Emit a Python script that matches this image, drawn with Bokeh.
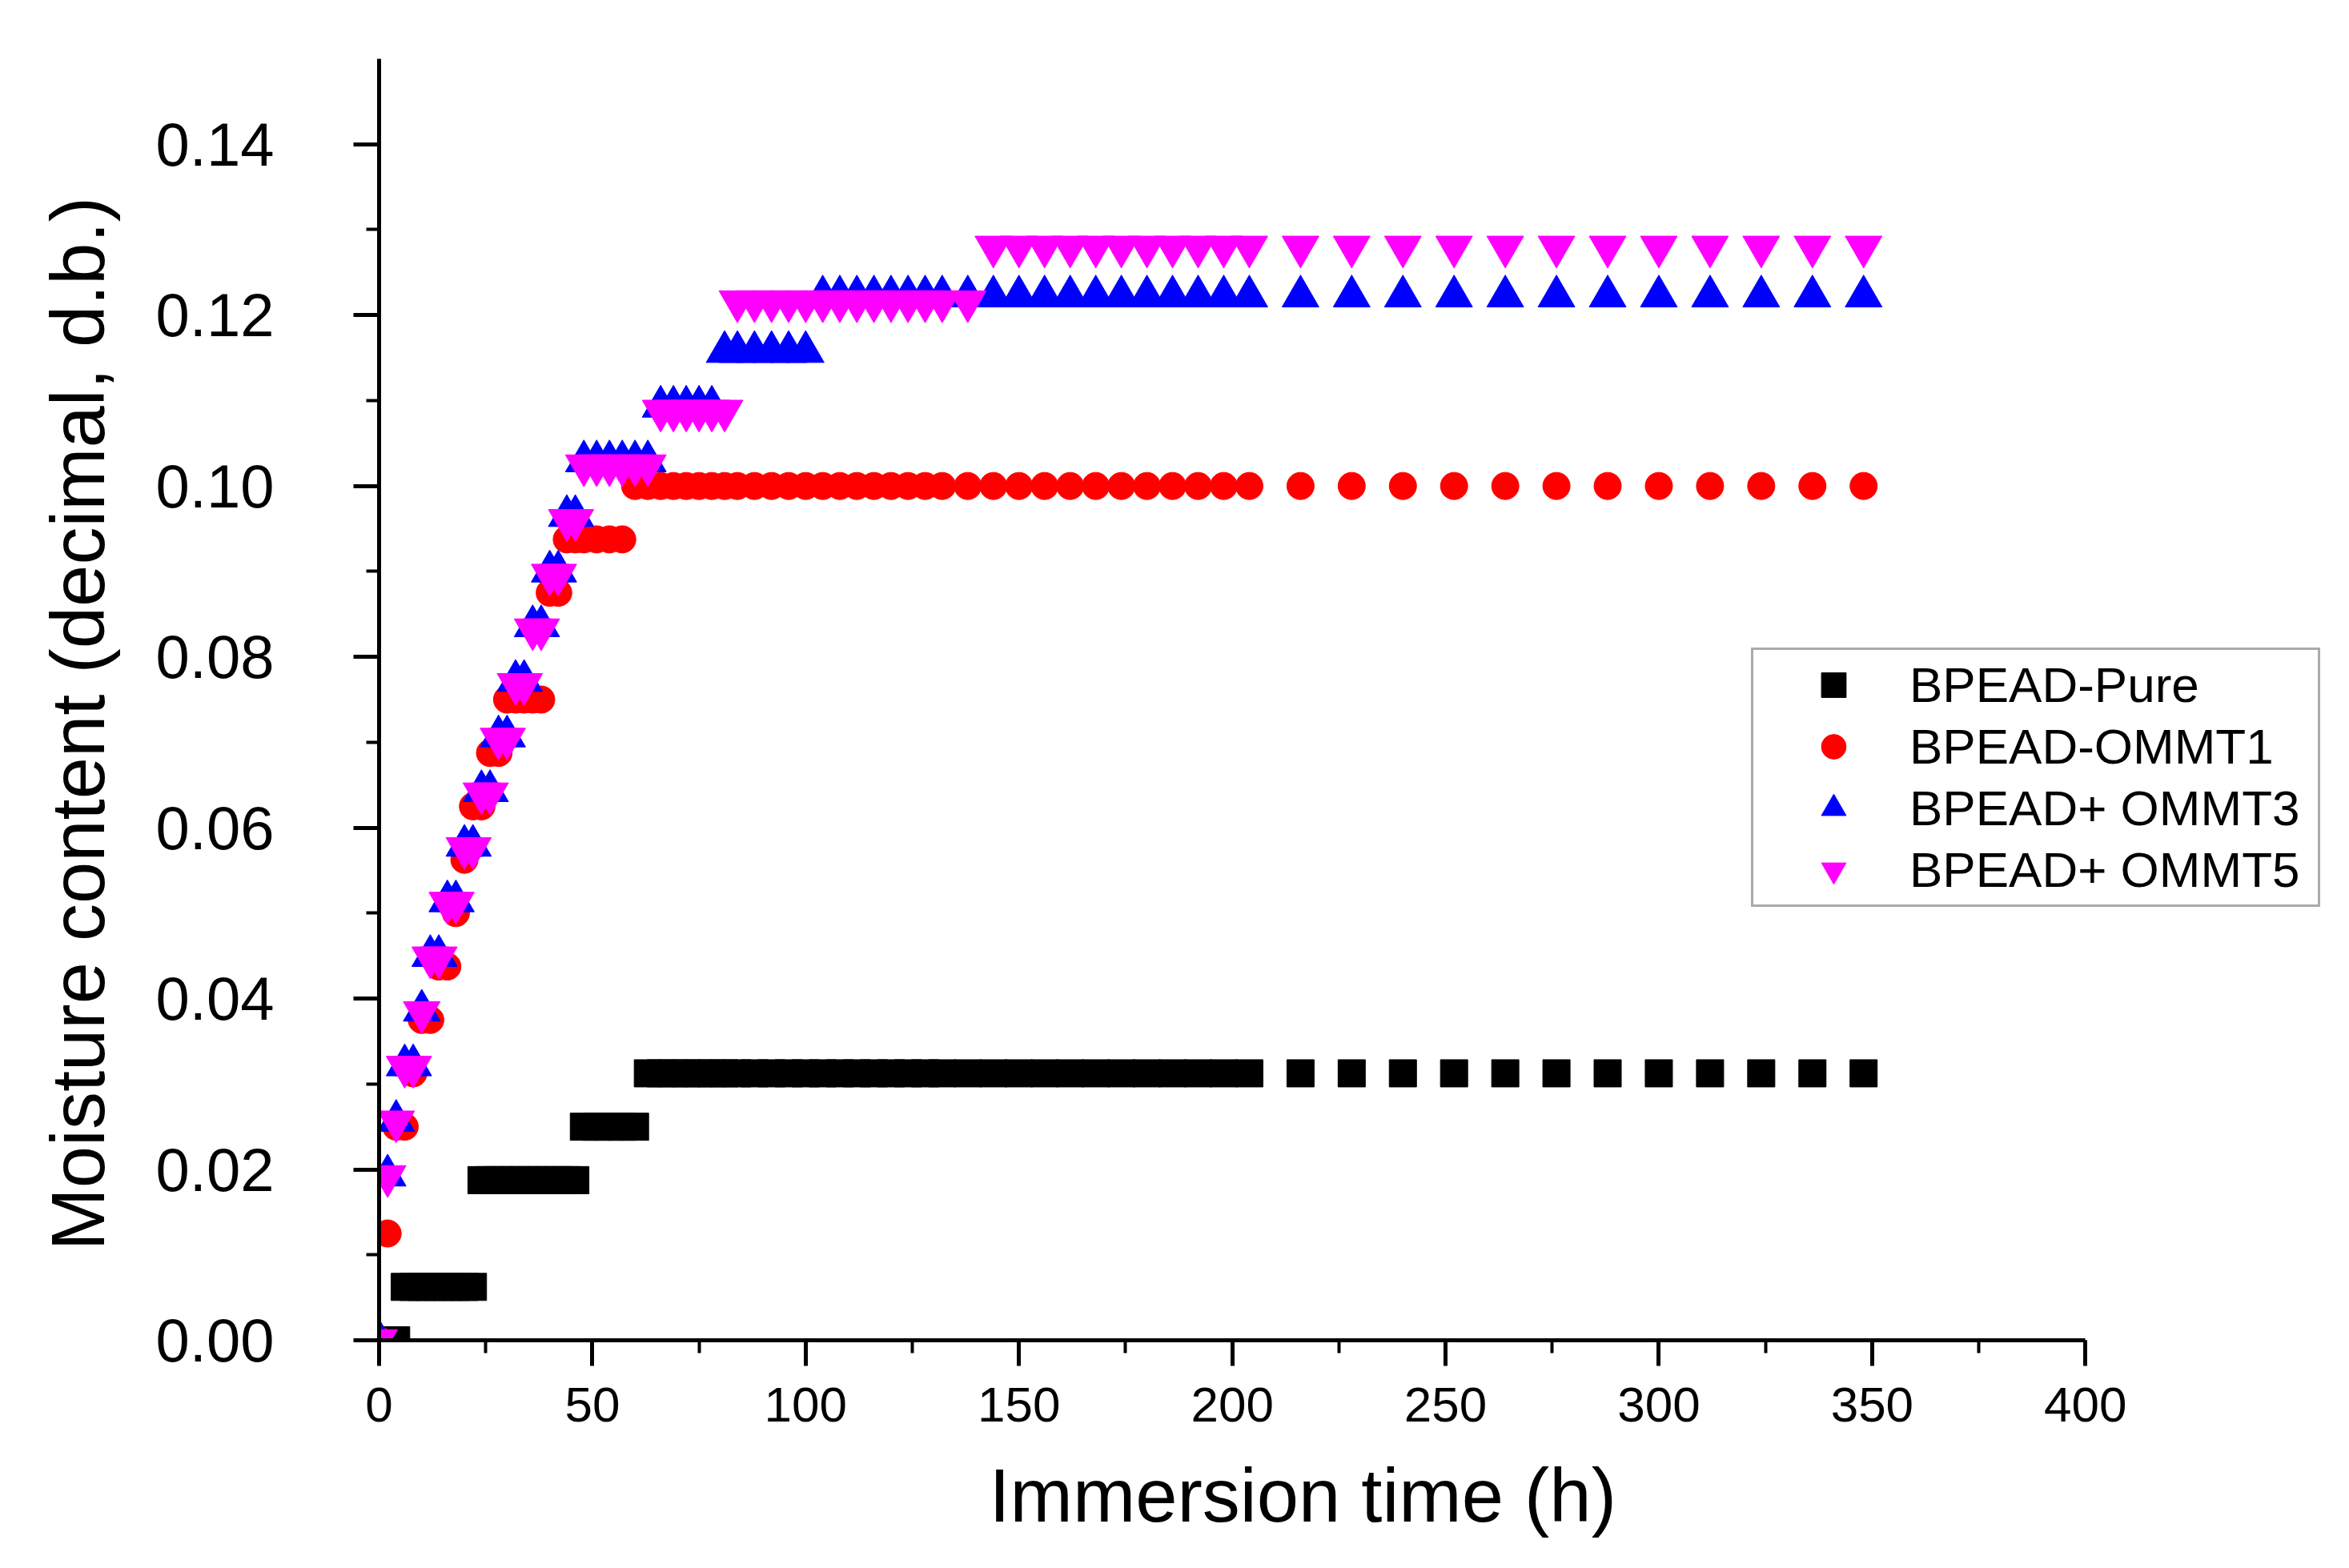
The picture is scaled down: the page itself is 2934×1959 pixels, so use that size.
from bokeh.plotting import figure
from bokeh.models import (Legend, LegendItem, Title, SingleIntervalTicker,
                          NumeralTickFormatter, Range1d)
from bokeh.embed import file_html
from bokeh.resources import INLINE

# ---------------- data ----------------
time_h = [0, 2, 4, 6, 8, 10, 12, 14, 16, 18, 20, 22, 24, 26, 28, 30, 32, 34, 36, 38,
          40, 42, 44, 46, 48, 51, 54, 57, 60, 63, 66, 69, 72, 75, 78, 81, 84, 88, 92, 96,
          100, 104, 108, 112, 116, 120, 124, 128, 132, 138, 144, 150, 156, 162, 168, 174,
          180, 186, 192, 198, 204, 216, 228, 240, 252, 264, 276, 288, 300, 312, 324, 336, 348]

pure = [0, 0, 0, 0.00625, 0.00625, 0.00625, 0.00625, 0.00625, 0.00625, 0.00625,
        0.00625, 0.00625, 0.01875, 0.01875, 0.01875, 0.01875, 0.01875, 0.01875, 0.01875, 0.01875,
        0.01875, 0.01875, 0.01875, 0.01875, 0.025, 0.025, 0.025, 0.025, 0.025, 0.03125,
        0.03125, 0.03125, 0.03125, 0.03125, 0.03125, 0.03125, 0.03125, 0.03125, 0.03125, 0.03125,
        0.03125, 0.03125, 0.03125, 0.03125, 0.03125, 0.03125, 0.03125, 0.03125, 0.03125, 0.03125,
        0.03125, 0.03125, 0.03125, 0.03125, 0.03125, 0.03125, 0.03125, 0.03125, 0.03125, 0.03125,
        0.03125, 0.03125, 0.03125, 0.03125, 0.03125, 0.03125, 0.03125, 0.03125, 0.03125, 0.03125,
        0.03125, 0.03125, 0.03125]

ommt1 = [0, 0.0125, 0.025, 0.025, 0.03125, 0.0375, 0.0375, 0.04375, 0.04375, 0.05,
         0.05625, 0.0625, 0.0625, 0.06875, 0.06875, 0.075, 0.075, 0.075, 0.075, 0.075,
         0.0875, 0.0875, 0.09375, 0.09375, 0.09375, 0.09375, 0.09375, 0.09375, 0.1, 0.1,
         0.1, 0.1, 0.1, 0.1, 0.1, 0.1, 0.1, 0.1, 0.1, 0.1,
         0.1, 0.1, 0.1, 0.1, 0.1, 0.1, 0.1, 0.1, 0.1, 0.1,
         0.1, 0.1, 0.1, 0.1, 0.1, 0.1, 0.1, 0.1, 0.1, 0.1,
         0.1, 0.1, 0.1, 0.1, 0.1, 0.1, 0.1, 0.1, 0.1, 0.1,
         0.1, 0.1, 0.1]

ommt3 = [0, 0.0193, 0.0257, 0.0322, 0.0322, 0.0386, 0.0450, 0.0450, 0.0514, 0.0514,
         0.0579, 0.0579, 0.0643, 0.0643, 0.0707, 0.0707, 0.0772, 0.0772, 0.0836, 0.0836,
         0.0900, 0.0900, 0.0965, 0.0965, 0.1029, 0.1029, 0.1029, 0.1029, 0.1029, 0.1029,
         0.1093, 0.1093, 0.1093, 0.1093, 0.1093, 0.1157, 0.1157, 0.1157, 0.1157, 0.1157,
         0.1157, 0.1222, 0.1222, 0.1222, 0.1222, 0.1222, 0.1222, 0.1222, 0.1222, 0.1222,
         0.1222, 0.1222, 0.1222, 0.1222, 0.1222, 0.1222, 0.1222, 0.1222, 0.1222, 0.1222,
         0.1222, 0.1222, 0.1222, 0.1222, 0.1222, 0.1222, 0.1222, 0.1222, 0.1222, 0.1222,
         0.1222, 0.1222, 0.1222]

ommt5 = [0, 0.0192, 0.0256, 0.0320, 0.0320, 0.0384, 0.0448, 0.0448, 0.0512, 0.0512,
         0.0576, 0.0576, 0.0640, 0.0640, 0.0704, 0.0704, 0.0768, 0.0768, 0.0832, 0.0832,
         0.0896, 0.0896, 0.0960, 0.0960, 0.1024, 0.1024, 0.1024, 0.1024, 0.1024, 0.1024,
         0.1088, 0.1088, 0.1088, 0.1088, 0.1088, 0.1088, 0.1216, 0.1216, 0.1216, 0.1216,
         0.1216, 0.1216, 0.1216, 0.1216, 0.1216, 0.1216, 0.1216, 0.1216, 0.1216, 0.1216,
         0.128, 0.128, 0.128, 0.128, 0.128, 0.128, 0.128, 0.128, 0.128, 0.128,
         0.128, 0.128, 0.128, 0.128, 0.128, 0.128, 0.128, 0.128, 0.128, 0.128,
         0.128, 0.128, 0.128]

series_names = ["BPEAD-Pure", "BPEAD-OMMT1", "BPEAD+ OMMT3", "BPEAD+ OMMT5"]
x_title = "Immersion time (h)"
y_title = "Moisture content (decimal, d.b.)"

# ---------------- figure ----------------
W, H = 2918, 1955
FONT = "Liberation Sans"

p = figure(width=W, height=H, output_backend="svg", toolbar_location=None,
           x_range=Range1d(0, 457.0), y_range=Range1d(0, 0.15),
           min_border_left=473, min_border_right=10,
           min_border_top=73, min_border_bottom=280)
p.outline_line_color = None
p.xgrid.visible = False
p.ygrid.visible = False
p.background_fill_color = "white"
p.border_fill_color = "white"

p.xaxis.ticker = SingleIntervalTicker(interval=50, num_minor_ticks=2)
p.yaxis.ticker = SingleIntervalTicker(interval=0.02, num_minor_ticks=2)
p.yaxis.formatter = NumeralTickFormatter(format="0.00")
p.xaxis.formatter = NumeralTickFormatter(format="0")
p.xaxis.bounds = (0, 400)
p.yaxis.bounds = (0, 0.15)

for ax in (p.xaxis[0], p.yaxis[0]):
    ax.axis_line_width = 5
    ax.axis_line_color = "black"
    ax.major_tick_line_width = 5
    ax.minor_tick_line_width = 4
    ax.major_tick_line_color = "black"
    ax.minor_tick_line_color = "black"
    ax.major_tick_in = 0
    ax.major_tick_out = 32
    ax.minor_tick_in = 0
    ax.minor_tick_out = 16
    ax.major_label_text_font = FONT
    ax.major_label_text_color = "black"

p.yaxis.major_label_text_font_size = "76px"
p.yaxis.major_label_standoff = 99
p.xaxis.major_label_text_font_size = "62px"
p.xaxis.major_label_standoff = 27

r_pure = p.scatter(time_h, pure, marker="square", size=34,
                   fill_color="black", line_color="black")
r_1 = p.scatter(time_h, ommt1, marker="circle", size=34,
                fill_color="#FF0000", line_color="#FF0000")
r_3 = p.scatter(time_h, ommt3, marker="triangle", size=46,
                fill_color="#0000FF", line_color="#0000FF")
r_5 = p.scatter(time_h, ommt5, marker="inverted_triangle", size=46,
                fill_color="#FF00FF", line_color="#FF00FF")

legend = Legend(items=[LegendItem(label=n, renderers=[r])
                       for n, r in zip(series_names, [r_pure, r_1, r_3, r_5])],
                location=(1714, 541))
legend.border_line_color = "#555555"
legend.border_line_width = 3
legend.padding = 5
legend.margin = 0
legend.spacing = 0
legend.glyph_width = 190
legend.glyph_height = 77
legend.label_height = 77
legend.label_width = 505
legend.label_standoff = 0
legend.label_text_font = FONT
legend.label_text_font_size = "62px"
legend.label_text_color = "black"
legend.background_fill_color = "white"
legend.background_fill_alpha = 1.0
p.add_layout(legend)

p.add_layout(Title(text=x_title, align="left", offset=762, vertical_align="bottom",
                   standoff=70, text_font=FONT, text_font_size="94px",
                   text_font_style="normal", text_color="black"), "below")
p.add_layout(Title(text=y_title, align="left", offset=112, vertical_align="bottom",
                   standoff=84, text_font=FONT, text_font_size="94px",
                   text_font_style="normal", text_color="black"), "left")

open("out.html", "w").write(file_html(p, INLINE))
